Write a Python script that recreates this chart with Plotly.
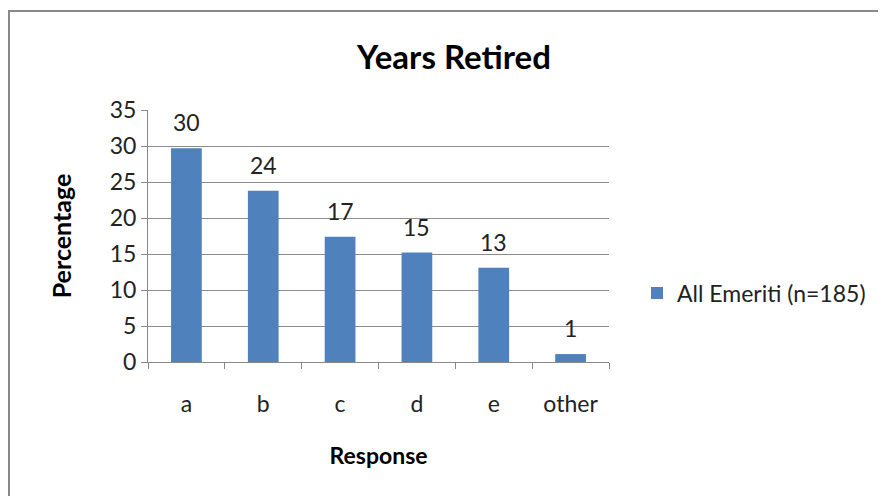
import plotly.graph_objects as go

responses = ["a", "b", "c", "d", "e", "other"]
percentages = [29.7, 23.8, 17.4, 15.2, 13.1, 1.1]
labels = ["30", "24", "17", "15", "13", "1"]
y_ticks = [0, 5, 10, 15, 20, 25, 30, 35]

font_name = "Lato, Open Sans, sans-serif"

# page body adds an 8px margin, so the figure is 8px smaller each way
W, H = 878, 488
L, R, T, B = 140, 601, 102, 354
pw, ph = R - L, B - T

fig = go.Figure()
fig.add_trace(go.Bar(
    x=responses,
    y=percentages,
    marker=dict(color="#4F81BD", line=dict(width=0)),
    name="All Emeriti (n=185)",
    showlegend=True,
))

# data labels above the bars
for r, v, t in zip(responses, percentages, labels):
    fig.add_annotation(x=r, y=v, text=t, showarrow=False,
                       yanchor="bottom", yshift=10,
                       font=dict(size=23, color="#222222"))

fig.update_layout(
    width=W,
    height=H,
    margin=dict(l=L, r=W - R, t=T, b=H - B, autoexpand=False),
    paper_bgcolor="white",
    plot_bgcolor="white",
    font=dict(family=font_name, size=23, color="#222222"),
    bargap=0.6,
    title=dict(text="<b>Years Retired</b>", x=446 / W, xanchor="center",
               y=1 - 49 / H, yanchor="middle",
               font=dict(size=33, color="black")),
    legend=dict(x=(629 - L) / pw, y=0.274, xanchor="left", yanchor="middle",
                font=dict(size=23, color="#222222"),
                itemwidth=30, bgcolor="rgba(0,0,0,0)"),
    xaxis=dict(
        title=dict(text="<b>Response</b>", font=dict(size=23, color="black"), standoff=32),
        showline=True, linecolor="#888888", linewidth=1,
        ticks="outside", ticklen=6, tickcolor="#888888",
        tickson="boundaries",
        ticklabelstandoff=21,
        showgrid=False,
        tickfont=dict(size=23),
    ),
    yaxis=dict(
        title=dict(text="<b>Percentage</b>", font=dict(size=25, color="black"), standoff=30),
        range=[0, 35],
        tickvals=y_ticks,
        showline=True, linecolor="#888888", linewidth=1,
        ticks="outside", ticklen=6, tickcolor="#888888",
        showgrid=True, gridcolor="#8c8c8c", gridwidth=1,
        zeroline=False,
        tickfont=dict(size=23),
    ),
    shapes=[dict(
        type="rect", xref="paper", yref="paper",
        x0=(1 - L) / pw, x1=(W + 10 - L) / pw,
        y0=(B - H - 10) / ph, y1=(B - 3) / ph,
        line=dict(color="#888888", width=2),
        fillcolor="rgba(0,0,0,0)", layer="below",
    )],
)

fig.write_html("out.html")
